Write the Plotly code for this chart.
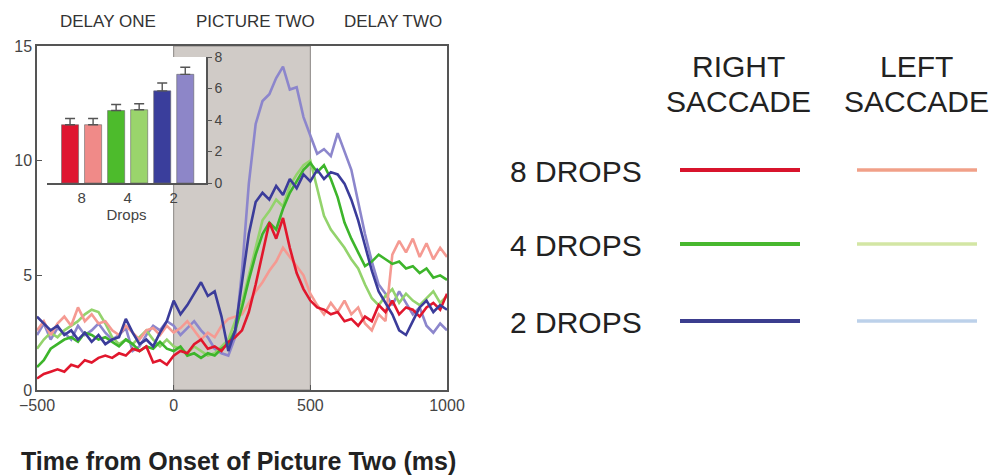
import plotly.graph_objects as go

W, H = 991, 475

# ---- data -------------------------------------------------------------
t_start, t_step = -500, 25

r8 = [0.5, 0.7, 0.8, 0.9, 0.8, 1.1, 1.0, 1.3, 1.2, 1.4, 1.5, 1.4, 1.6, 1.5, 1.8, 1.7, 1.9, 1.2, 1.3, 1.1,
      1.5, 1.7, 1.6, 2.0, 2.2, 1.8, 1.9, 1.7, 2.1, 2.3, 2.6, 3.4, 4.6, 6.0, 7.3, 6.6, 7.5, 6.2, 5.1, 4.4,
      3.9, 3.6, 3.5, 3.3, 3.4, 3.0, 3.1, 2.8, 3.2, 3.0, 3.7, 3.4, 3.9, 3.3, 3.6, 3.5, 3.2, 3.6, 3.8, 3.5, 4.2]
l8 = [2.6, 3.0, 2.4, 2.9, 3.2, 2.8, 3.6, 3.0, 3.3, 2.9, 3.0, 2.6, 2.4, 2.8, 2.5, 2.2, 2.6, 2.7, 2.4, 2.8,
      2.5, 2.7, 3.0, 2.6, 2.2, 2.5, 2.3, 2.8, 3.1, 3.2, 3.3, 3.8, 4.3, 4.7, 5.2, 5.6, 6.2, 5.8, 5.4, 5.0,
      4.2, 3.7, 3.3, 3.8, 3.4, 3.9, 3.3, 3.6, 2.9, 2.6, 3.3, 3.0, 5.9, 6.5, 6.0, 6.6, 5.8, 6.4, 5.7, 6.2, 5.8]
r4 = [1.0, 1.3, 1.8, 2.0, 2.2, 2.3, 2.1, 2.5, 2.4, 2.2, 2.3, 2.1, 1.9, 2.2, 2.0, 1.7, 1.9, 1.8, 2.1, 1.8,
      1.7, 1.9, 1.5, 1.6, 1.4, 1.6, 1.5, 1.8, 2.0, 2.6, 3.6, 4.8, 5.9, 6.8, 7.3, 7.0, 7.9, 8.6, 9.1, 9.6,
      9.9, 9.5, 9.8, 9.2, 8.4, 7.3, 6.6, 6.0, 5.4, 5.6, 5.9, 5.7, 5.5, 5.6, 5.3, 5.4, 5.1, 5.3, 4.9, 5.0, 4.8]
l4 = [1.8, 2.2, 2.5, 2.3, 2.6, 2.8, 3.0, 3.3, 3.5, 3.4, 2.9, 2.3, 2.0, 2.2, 2.0, 2.3, 2.6, 2.2, 1.9, 2.2,
      1.9, 1.8, 1.6, 1.9, 1.7, 1.5, 1.6, 1.9, 2.2, 3.0, 3.8, 5.0, 6.2, 7.4, 7.8, 8.3, 8.0, 8.9, 9.4, 9.8,
      10.0, 8.8, 7.6, 7.0, 6.6, 6.2, 5.7, 5.3, 4.6, 4.0, 3.7, 4.1, 4.4, 3.8, 4.2, 3.9, 3.7, 4.0, 4.3, 3.8, 4.1]
r2 = [3.2, 2.9, 2.6, 2.8, 2.4, 2.6, 2.2, 2.5, 2.1, 2.4, 2.0, 2.2, 2.3, 3.1, 2.5, 2.0, 2.2, 1.9, 2.5, 3.0,
      3.9, 3.3, 3.7, 4.2, 4.7, 4.1, 4.3, 3.2, 1.7, 2.6, 4.8, 6.8, 8.2, 8.6, 8.3, 8.9, 8.5, 9.2, 8.8, 9.4,
      9.1, 9.6, 9.2, 9.5, 9.4, 9.0, 8.3, 7.4, 6.3, 5.2, 4.3, 3.8, 3.3, 2.6, 2.4, 3.0, 3.6, 3.9, 3.4, 3.7, 3.5]
l2 = [2.4, 2.9, 2.2, 2.7, 2.5, 2.2, 2.8, 2.4, 2.6, 2.9, 2.5, 2.2, 2.4, 2.7, 1.7, 1.9, 2.4, 2.8, 2.6, 3.0,
      2.8, 2.4, 2.7, 3.0, 2.6, 2.3, 1.8, 1.6, 1.5, 2.3, 5.2, 9.0, 11.6, 12.6, 12.9, 13.6, 14.1, 13.1, 13.2, 11.9,
      11.1, 10.3, 10.5, 10.2, 11.2, 10.4, 9.6, 8.2, 6.8, 5.6, 4.6, 4.2, 3.7, 4.3, 3.8, 3.3, 3.6, 2.8, 2.5, 2.9, 2.6]

series_names = ["2 drops left", "4 drops left", "8 drops left", "4 drops right", "8 drops right", "2 drops right"]
series_vals = [l2, l4, l8, r4, r8, r2]
series_colors = ["#8c86cc", "#93d36c", "#f59a92", "#3db52b", "#e1172d", "#3b3c9a"]

bar_cats = ["8R", "8L", "4R", "4L", "2R", "2L"]
bar_vals = [3.7, 3.7, 4.6, 4.65, 5.85, 6.9]
bar_err = [0.4, 0.4, 0.38, 0.38, 0.5, 0.45]
bar_colors = ["#df1530", "#f08a88", "#4dbb2c", "#9ad46c", "#3a3e9c", "#8d86c8"]
bar_ticklabels = ["8", "4", "2"]

xticks = [-500, 0, 500, 1000]
yticks = [0, 5, 10, 15]
epoch_labels = ["DELAY ONE", "PICTURE TWO", "DELAY TWO"]

legend_rows = ["8 DROPS", "4 DROPS", "2 DROPS"]
legend_right = ["#d8142c", "#48b82e", "#3b3d8e"]
legend_left = ["#f1a088", "#d3e6a4", "#bcd1ea"]

# ---- figure -----------------------------------------------------------
FONT = "Arial, Liberation Sans, sans-serif"

def px(x):
    return x / W

def py(y):
    return 1 - y / H

fig = go.Figure()

for name, vals, col in zip(series_names, series_vals, series_colors):
    tt = [t_start + t_step * i for i in range(len(vals))]
    fig.add_trace(go.Scatter(x=tt, y=vals, mode="lines", name=name,
                             line=dict(color=col, width=2.6), xaxis="x", yaxis="y",
                             showlegend=False))

bar_x = list(range(len(bar_cats)))
fig.add_trace(go.Bar(x=bar_x, y=bar_vals, marker=dict(color=bar_colors, line=dict(color="#666", width=0.6)),
                     width=0.74, xaxis="x2", yaxis="y2", showlegend=False,
                     error_y=dict(type="data", symmetric=False, array=bar_err,
                                  arrayminus=[0] * len(bar_err), color="#555", thickness=1.4, width=5)))

main_dom_x = [px(37), px(447)]
main_dom_y = [py(390), py(46)]
ins_dom_x = [px(47), px(206)]
ins_dom_y = [py(183), py(57)]

axis_common = dict(showline=True, linecolor="#555", linewidth=1.5, mirror=True, ticks="inside",
                   ticklen=5, tickcolor="#555", showgrid=False, zeroline=False, automargin=False,
                   tickfont=dict(family=FONT, size=16, color="#444"))

fig.update_layout(
    width=W, height=H, margin=dict(l=0, r=0, t=0, b=0, autoexpand=False),
    paper_bgcolor="white", plot_bgcolor="white",
    xaxis=dict(domain=main_dom_x, range=[-500, 1000], tickvals=xticks, anchor="y", **axis_common),
    yaxis=dict(domain=main_dom_y, range=[0, 15], tickvals=yticks, anchor="x", **axis_common),
    xaxis2=dict(domain=ins_dom_x, range=[-1.0, 5.9], anchor="y2", showline=True, linecolor="#555",
                linewidth=1.5, ticks="", showgrid=False, zeroline=False, automargin=False,
                tickvals=[0.5, 2.5, 4.5], ticktext=bar_ticklabels,
                tickfont=dict(family=FONT, size=15, color="#444"),
                title=dict(text="Drops", font=dict(family=FONT, size=15, color="#444"), standoff=0)),
    yaxis2=dict(domain=ins_dom_y, range=[0, 8], anchor="x2", side="right", showline=True,
                linecolor="#555", linewidth=1.5, ticks="outside", ticklen=4, tickcolor="#555",
                tickvals=[0, 2, 4, 6, 8], showgrid=False, zeroline=False, automargin=False,
                tickfont=dict(family=FONT, size=14, color="#444")),
)

# shaded picture epoch
fig.add_shape(type="rect", xref="x", yref="y", x0=0, x1=500, y0=0, y1=15,
              fillcolor="#d0cbc7", line=dict(color="#8a8684", width=1), layer="below")
# white inset background
fig.add_shape(type="rect", xref="x2 domain", yref="y2 domain", x0=0, x1=1, y0=0, y1=1.02,
              fillcolor="white", line=dict(width=0), layer="below")

# epoch labels
for lab, xc in zip(epoch_labels, [108, 255, 393]):
    fig.add_annotation(text=lab, x=px(xc), y=py(21), xref="paper", yref="paper", showarrow=False,
                       xanchor="center", yanchor="middle",
                       font=dict(family=FONT, size=17, color="#333"))

# x title
fig.add_annotation(text="<b>Time from Onset of Picture Two (ms)</b>", x=px(19), y=py(461),
                   xref="paper", yref="paper", showarrow=False, xanchor="left", yanchor="middle",
                   font=dict(family=FONT, size=25, color="#222"))

# legend block
for lines, xc in [(["RIGHT", "SACCADE"], 738), (["LEFT", "SACCADE"], 916)]:
    for txt, yc in zip(lines, [67, 102]):
        fig.add_annotation(text=txt, x=px(xc), y=py(yc), xref="paper", yref="paper",
                           showarrow=False, xanchor="center", yanchor="middle",
                           font=dict(family=FONT, size=30, color="#222"))
for lab, yc, cr, cl in zip(legend_rows, [171, 245, 322], legend_right, legend_left):
    fig.add_annotation(text=lab, x=px(508), y=py(yc), xref="paper", yref="paper", showarrow=False,
                       xanchor="left", yanchor="middle", font=dict(family=FONT, size=30, color="#222"))
    fig.add_shape(type="line", xref="paper", yref="paper", x0=px(680), x1=px(800), y0=py(yc - 1),
                  y1=py(yc - 1), line=dict(color=cr, width=4))
    fig.add_shape(type="line", xref="paper", yref="paper", x0=px(857), x1=px(977), y0=py(yc - 1),
                  y1=py(yc - 1), line=dict(color=cl, width=3.5))

fig.write_html("out.html")
